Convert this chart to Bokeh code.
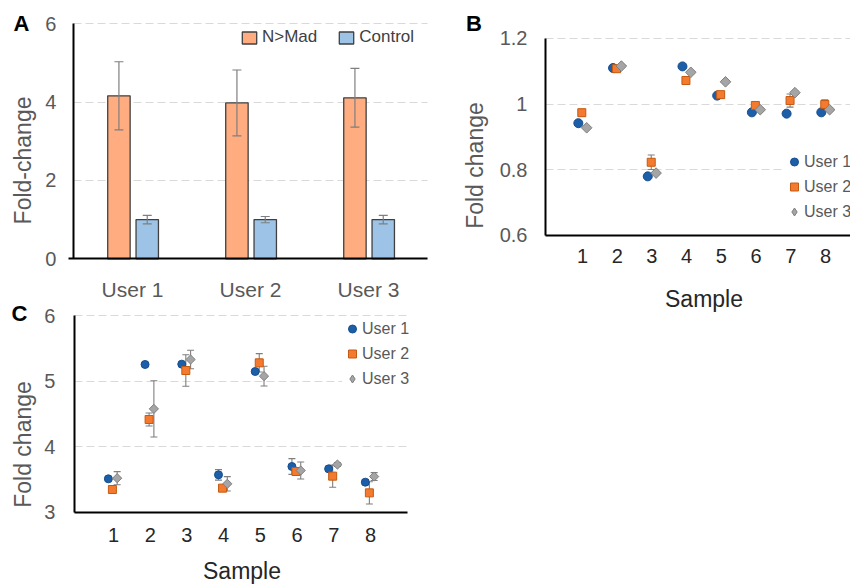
import math
from bokeh.plotting import figure
from bokeh.models import (ColumnDataSource, Range1d, FixedTicker, Whisker,
                          TeeHead, Label, Legend, LegendItem, CustomJSTickFormatter)
from bokeh.transform import dodge
from bokeh.layouts import column, row
from bokeh.embed import file_html
from bokeh.resources import INLINE

FONT = "Liberation Sans"

# ---------------- data ----------------
# Panel A
users = ["User 1", "User 2", "User 3"]
nmad_mean = [4.16, 3.98, 4.11]
nmad_err = [0.87, 0.84, 0.75]
control_mean = [1.0, 1.0, 1.0]
control_err = [0.11, 0.08, 0.11]
a_yticks = [0, 2, 4, 6]

# Panel B
samples = [1, 2, 3, 4, 5, 6, 7, 8]
b_user1 = [0.942, 1.110, 0.780, 1.115, 1.026, 0.975, 0.971, 0.975]
b_user2 = [0.974, 1.108, 0.823, 1.072, 1.029, 0.996, 1.011, 0.999]
b_user3 = [0.928, 1.116, 0.790, 1.097, 1.068, 0.983, 1.035, 0.983]
b_err1 = [0.003, 0.003, 0.003, 0.003, 0.003, 0.003, 0.003, 0.003]
b_err2 = [0.004, 0.004, 0.022, 0.008, 0.004, 0.006, 0.020, 0.014]
b_err3 = [0.004, 0.004, 0.004, 0.004, 0.004, 0.004, 0.004, 0.004]
b_yticks = [0.6, 0.8, 1.0, 1.2]

# Panel C
c_user1 = [3.509, 5.253, 5.258, 3.570, 5.146, 3.697, 3.661, 3.458]
c_user2 = [3.346, 4.414, 5.161, 3.367, 5.278, 3.621, 3.550, 3.295]
c_user3 = [3.519, 4.576, 5.329, 3.433, 5.075, 3.636, 3.727, 3.544]
c_err1 = [0.02, 0.03, 0.03, 0.08, 0.03, 0.12, 0.03, 0.04]
c_err2 = [0.03, 0.10, 0.24, 0.03, 0.14, 0.05, 0.17, 0.17]
c_err3 = [0.10, 0.43, 0.14, 0.11, 0.15, 0.13, 0.03, 0.06]
c_yticks = [3, 4, 5, 6]

series_names = ["User 1", "User 2", "User 3"]

# ---------------- styles ----------------
ORANGE_BAR = "#FFAD80"
BLUE_BAR = "#9DC3E6"
BAR_LINE = "#404040"
ERR = "#7F7F7F"
BLUE = "#1C5EA8"
BLUE_D = "#174E8C"
ORANGE = "#F47A30"
ORANGE_D = "#C55A11"
GRAY = "#A5A5A5"
GRAY_D = "#7F7F7F"
TICK_GRAY = "#595959"
DARK = "#262626"
GRID = "#D9D9D9"


def make_fig(width, height, xr, yr):
    p = figure(width=width, height=height, x_range=Range1d(*xr), y_range=Range1d(*yr),
               output_backend="svg", toolbar_location=None,
               min_border_left=0, min_border_right=0, min_border_top=0, min_border_bottom=0)
    p.outline_line_color = None
    p.background_fill_color = "white"
    p.border_fill_color = "white"
    return p


def style_axes(p, x0, x1, y0, y1, xticks, yticks, xlabel_color, xlabel_size,
               x_standoff, y_standoff):
    """Axes drawn inside a full-canvas frame at fixed locations."""
    p.xaxis.fixed_location = y0
    p.yaxis.fixed_location = x0
    p.xaxis.bounds = (x0, x1)
    p.yaxis.bounds = (y0, y1)
    p.xaxis.ticker = FixedTicker(ticks=xticks)
    p.yaxis.ticker = FixedTicker(ticks=yticks)
    for ax in (p.xaxis[0], p.yaxis[0]):
        ax.axis_line_color = "black"
        ax.axis_line_width = 2
        ax.major_tick_line_color = None
        ax.minor_tick_line_color = None
        ax.major_tick_out = 0
        ax.major_tick_in = 0
        ax.minor_tick_out = 0
        ax.minor_tick_in = 0
        ax.major_label_text_font = FONT
    p.yaxis.major_label_text_font_size = "20px"
    p.yaxis.major_label_text_color = TICK_GRAY
    p.yaxis.major_label_standoff = y_standoff
    p.xaxis.major_label_text_font_size = xlabel_size
    p.xaxis.major_label_text_color = xlabel_color
    p.xaxis.major_label_standoff = x_standoff
    p.xgrid.grid_line_color = None
    p.ygrid.grid_line_color = GRID
    p.ygrid.grid_line_dash = "8 4"
    p.ygrid.grid_line_width = 1
    try:
        p.ygrid.cross_bounds = (x0, x1)
    except AttributeError:
        p.ygrid.grid_line_color = None
        gy = [t for t in yticks if t != y0]
        p.segment(x0=[x0] * len(gy), x1=[x1] * len(gy), y0=gy, y1=gy,
                  line_color=GRID, line_dash="8 4", line_width=1, level="underlay")


def add_text(p, x, y, text, size, color, bold=False, angle=0.0, baseline="middle"):
    p.add_layout(Label(x=x, y=y, text=text, text_font=FONT, text_font_size=size,
                       text_color=color, text_font_style="bold" if bold else "normal",
                       text_align="center", text_baseline=baseline, angle=angle))


def whisk(src, base, lo, hi, size, width=1.2, level="annotation"):
    return Whisker(base=base, lower=lo, upper=hi, source=src, line_color=ERR,
                   line_width=width, level=level,
                   upper_head=TeeHead(size=size, line_color=ERR, line_width=width),
                   lower_head=TeeHead(size=size, line_color=ERR, line_width=width))


# ---------------- Panel A ----------------
user_pos = list(range(len(users)))
srcA = ColumnDataSource(dict(
    pos=user_pos,
    nmad=nmad_mean,
    nmad_lo=[m - e for m, e in zip(nmad_mean, nmad_err)],
    nmad_hi=[m + e for m, e in zip(nmad_mean, nmad_err)],
    ctrl=control_mean,
    ctrl_lo=[m - e for m, e in zip(control_mean, control_err)],
    ctrl_hi=[m + e for m, e in zip(control_mean, control_err)],
))

pA = make_fig(430, 300, (-1.1186, 2.5254), (-1.065, 6.594))
style_axes(pA, -0.5, 2.5, 0, 6, user_pos, a_yticks, TICK_GRAY, "21px", 19, 17)
pA.xaxis.bounds = (-0.54, 2.5)
pA.xaxis.major_label_overrides = {i: u for i, u in zip(user_pos, users)}

rA1 = pA.vbar(x=dodge("pos", -0.115), top="nmad", width=0.19, source=srcA,
              fill_color=ORANGE_BAR, line_color=BAR_LINE, line_width=1.3)
rA2 = pA.vbar(x=dodge("pos", 0.125), top="ctrl", width=0.19, source=srcA,
              fill_color=BLUE_BAR, line_color=BAR_LINE, line_width=1.3)
pA.add_layout(whisk(srcA, dodge("pos", -0.115), "nmad_lo", "nmad_hi", 9))
pA.add_layout(whisk(srcA, dodge("pos", 0.125), "ctrl_lo", "ctrl_hi", 9))

legA = Legend(items=[LegendItem(label="N>Mad", renderers=[rA1]),
                     LegendItem(label="Control", renderers=[rA2])],
              orientation="horizontal", location=(240, 253), margin=0, padding=0,
              spacing=20, glyph_width=18, glyph_height=15, label_height=15,
              label_standoff=4, label_text_font=FONT, label_text_font_size="17px",
              label_text_color="#404040", background_fill_alpha=0, border_line_color=None)
pA.add_layout(legA)

add_text(pA, -0.941, 6.007, "A", "22px", "black", bold=True)
add_text(pA, -0.928, 2.51, "Fold-change", "23px", TICK_GRAY, angle=math.pi / 2)


# ---------------- scatter panels ----------------
def scatter_panel(width, height, xr, yr, x0, y0, y1, yticks, data, errs, offsets,
                  sizes, x_standoff, y_standoff, legend_loc):
    p = make_fig(width, height, xr, yr)
    style_axes(p, x0, 9, y0, y1, samples, yticks, DARK, "20px", x_standoff, y_standoff)
    d = dict(sample=samples)
    for i, (vals, err) in enumerate(zip(data, errs)):
        d[f"u{i}"] = vals
        d[f"u{i}_lo"] = [v - e for v, e in zip(vals, err)]
        d[f"u{i}_hi"] = [v + e for v, e in zip(vals, err)]
    src = ColumnDataSource(d)
    styles = [
        dict(marker="circle", fill_color=BLUE, line_color=BLUE_D, angle=0),
        dict(marker="square", fill_color=ORANGE, line_color=ORANGE_D, angle=0),
        dict(marker="square", fill_color=GRAY, line_color=GRAY_D, angle=math.pi / 4),
    ]
    rends = []
    for i in range(3):
        xs = dodge("sample", offsets[i])
        p.add_layout(whisk(src, xs, f"u{i}_lo", f"u{i}_hi", 7, width=1.1, level="underlay"))
        r = p.scatter(x=xs, y=f"u{i}", source=src, size=sizes[i], line_width=1,
                      **styles[i])
        rends.append(r)
    # zero-size diamond renderer so the legend shows a diamond shape for User 3
    rdiam = p.scatter(x=dodge("sample", offsets[2]), y="u2", source=src, size=0,
                      marker="diamond", fill_color=GRAY, line_color=GRAY_D, line_width=1)
    leg_rends = [rends[0], rends[1], rdiam]
    leg = Legend(items=[LegendItem(label=n, renderers=[r]) for n, r in zip(series_names, leg_rends)],
                 location=legend_loc, margin=0, padding=0, spacing=0, glyph_width=20,
                 glyph_height=25, label_height=25, label_standoff=-2, label_text_font=FONT,
                 label_text_font_size="16px", label_text_color=TICK_GRAY,
                 background_fill_color="white", background_fill_alpha=1,
                 border_line_color=None)
    p.add_layout(leg)
    return p


# ---------------- Panel B ----------------
pB = scatter_panel(420, 320, (-3.379, 8.721), (0.341, 1.3157), -0.066, 0.6, 1.2,
                   b_yticks, [b_user1, b_user2, b_user3], [b_err1, b_err2, b_err3],
                   [-0.12, -0.02, 0.12], [9, 8, 7.5], 14, 18, (354, 96))
pB.yaxis.formatter = CustomJSTickFormatter(code="return tick.toFixed(1).replace(/\\.0$/, '');")
add_text(pB, -2.126, 1.2457, "B", "22px", "black", bold=True)
add_text(pB, -2.083, 0.813, "Fold change", "23px", TICK_GRAY, angle=math.pi / 2)
add_text(pB, 4.5, 0.4063, "Sample", "23px", DARK)

# ---------------- Panel C ----------------
pC = scatter_panel(430, 284, (-2.078, 9.635), (1.8975, 6.2288), -0.063, 3, 6,
                   c_yticks, [c_user1, c_user2, c_user3], [c_err1, c_err2, c_err3],
                   [-0.14, -0.03, 0.1], [8, 8, 6.5], 16, 19, (342, 193))
add_text(pC, -1.561, 6.038, "C", "22px", "black", bold=True)
add_text(pC, -1.466, 4.033, "Fold change", "23px", TICK_GRAY, angle=math.pi / 2)
add_text(pC, 4.5, 2.11, "Sample", "23px", DARK)

layout = row(column(pA, pC), pB)
open("out.html", "w").write(file_html(layout, INLINE))
